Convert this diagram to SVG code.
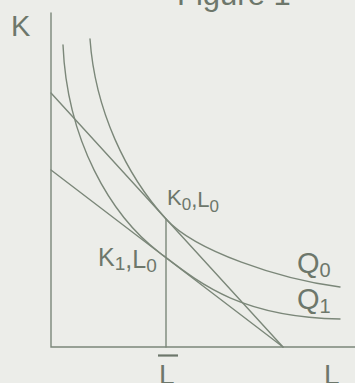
<svg xmlns="http://www.w3.org/2000/svg" width="355" height="383" viewBox="0 0 355 383">
<style>
.ln{fill:none;stroke:#7b8779;stroke-width:1.4;stroke-linecap:round}
.tx{font-family:"Liberation Sans",Arial,sans-serif;fill:#6d776b}
</style>
<rect width="355" height="383" fill="#ecede9"/>
<text class="tx" x="177" y="5" font-size="31">Figure 1</text>
<g id="axes">
<path class="ln" d="M51,13 V347 H355"/>
<text class="tx" x="11" y="36" font-size="29">K</text>
</g>
<g id="connectors">
<path id="isocost-steep" class="ln" d="M51,93 L283,347"/>
<path id="isocost-flat" class="ln" d="M51,170 L283,347"/>
<path id="L0-line" class="ln" d="M166,219 V347"/>
</g>
<g id="Q0">
<path class="ln" d="M90,39 C95,110 126,175 166,219 C195,251 280,279.5 340,287"/>
<text class="tx" x="297" y="273" font-size="29">Q<tspan font-size="20" dy="4">0</tspan></text>
</g>
<g id="Q1">
<path class="ln" d="M63,45 C67,140 110,215 160,253 C200,283.5 240,317 340,319"/>
<text class="tx" x="297" y="309" font-size="29">Q<tspan font-size="20" dy="4">1</tspan></text>
</g>
<g id="K0L0">
<text class="tx" x="167" y="205" font-size="22">K<tspan font-size="17" dy="5">0</tspan><tspan dy="-3">,L</tspan><tspan font-size="17" dy="5">0</tspan></text>
</g>
<g id="K1L0">
<text class="tx" x="98" y="266" font-size="25">K<tspan font-size="19" dy="4">1</tspan><tspan dy="-2">,L</tspan><tspan font-size="19" dy="4">0</tspan></text>
</g>
<g id="Lbar">
<path d="M158,355.5 H178" stroke="#6d776b" stroke-width="2.2"/>
<text class="tx" x="159" y="384" font-size="28">L</text>
</g>
<g id="Laxis">
<text class="tx" x="324" y="384" font-size="28">L</text>
</g>
</svg>
